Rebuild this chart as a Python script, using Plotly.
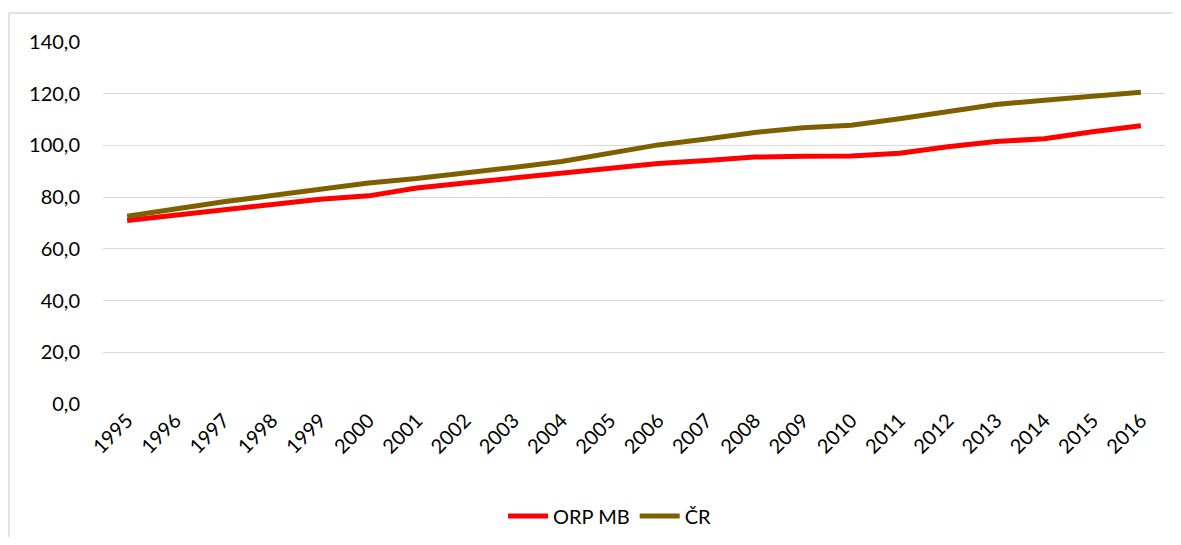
import plotly.graph_objects as go

years = list(range(1995, 2017))
orp_mb = [71.0, 73.0, 75.3, 77.2, 79.2, 80.5, 83.5, 85.5, 87.3, 89.2, 91.0,
          93.0, 94.2, 95.5, 95.8, 95.9, 97.0, 99.5, 101.5, 102.6, 105.3, 107.6]
cr = [72.6, 75.5, 78.2, 80.6, 83.0, 85.5, 87.2, 89.2, 91.5, 93.8, 97.0,
      100.2, 102.5, 105.0, 106.8, 107.8, 110.3, 113.2, 115.8, 117.5, 119.0, 120.6]

# page body has an 8px default margin on every side, keep the figure inside it
OFF = 8
W, H = 1181 - 2 * OFF, 545 - 2 * OFF
L, R, T, B = 103 - OFF, 16 - OFF, 42 - OFF, 141 - OFF

fig = go.Figure()

fig.add_trace(go.Scatter(
    x=years, y=orp_mb, name="ORP MB", mode="lines",
    line=dict(color="#FF0000", width=5)
))

fig.add_trace(go.Scatter(
    x=years, y=cr, name="ČR", mode="lines",
    line=dict(color="#7F6000", width=5)
))

pw = W - L - R
ph = H - T - B

# Excel-style chart border: only left and top edges are inside the picture
bx = (9 - OFF - L) / pw
by = 1 + (T - (13 - OFF)) / ph
border = dict(color="#D9D9D9", width=1.5)
fig.add_shape(type="line", xref="paper", yref="paper",
              x0=bx, x1=(W + 60 - L) / pw, y0=by, y1=by,
              line=border, layer="below")
fig.add_shape(type="line", xref="paper", yref="paper",
              x0=bx, x1=bx, y0=by, y1=-(H + 60 - T - ph) / ph,
              line=border, layer="below")

fig.update_layout(
    width=W, height=H,
    margin=dict(l=L, r=R, t=T, b=B, autoexpand=False),
    paper_bgcolor="white",
    plot_bgcolor="white",
    separators=", ",
    font=dict(family="Lato, Carlito, sans-serif", size=20, color="#000000"),
    showlegend=True,
    legend=dict(
        orientation="h", x=0.477, xanchor="center",
        yref="container", y=1 - (516 - OFF) / H, yanchor="middle",
        font=dict(size=20), itemwidth=40
    ),
    xaxis=dict(
        tickmode="array", tickvals=years, ticktext=[str(y) for y in years],
        range=[1994.5, 2016.5], tickangle=-45, showgrid=False,
        zeroline=False, showline=False, ticks=""
    ),
    yaxis=dict(
        range=[0, 140], dtick=20, tickformat=".1f",
        gridcolor="#D9D9D9", gridwidth=1.3, zeroline=False,
        showline=False, ticks="", ticklen=0
    ),
)

fig.update_yaxes(ticklabelstandoff=22)

fig.write_html("out.html")
